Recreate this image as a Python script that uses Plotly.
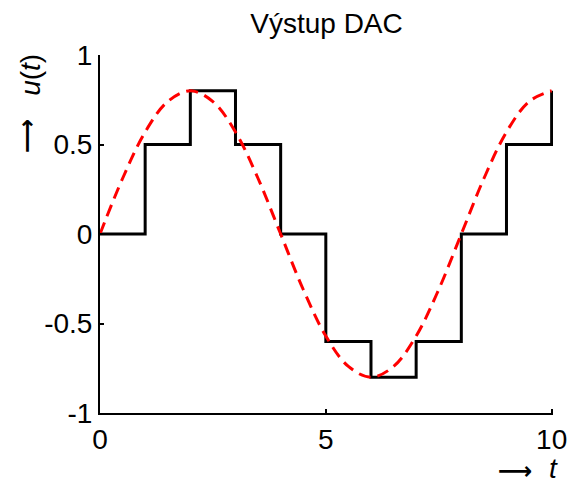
import plotly.graph_objects as go

# Staircase (DAC output) samples at integer t
t_steps = [0, 1, 2, 3, 4, 5, 6, 7, 8, 9, 10]
u_steps = [0, 0.5, 0.8, 0.5, 0, -0.6, -0.8, -0.6, 0, 0.5, 0.8]

# Ideal analogue signal (red dashed)
t_sig = [0, 0.5, 1, 1.5, 2, 2.5, 3, 3.5, 4, 4.5, 5, 5.5, 6, 6.5, 7, 7.5, 8, 8.5, 9, 9.5, 10]
u_sig = [0, 0.31, 0.57, 0.74, 0.8, 0.74, 0.57, 0.31, 0, -0.31, -0.57, -0.74, -0.8,
         -0.74, -0.57, -0.31, 0, 0.31, 0.57, 0.74, 0.8]

x_ticks = [0, 5, 10]
y_ticks = [-1, -0.5, 0, 0.5, 1]
y_tick_text = ["-1", "-0.5", "0", "0.5", "1"]

FONT = "Liberation Sans, Arial, sans-serif"
ARROW_FONT = "DejaVu Sans"

fig = go.Figure()
fig.add_trace(go.Scatter(x=t_steps, y=u_steps, mode="lines", line_shape="hv",
                         line=dict(color="black", width=3), showlegend=False))
fig.add_trace(go.Scatter(x=t_sig, y=u_sig, mode="lines", line_shape="spline",
                         line=dict(color="#ff0000", width=3, dash="12px,7px"), showlegend=False))

axis_common = dict(ticks="inside", ticklen=4, tickwidth=2, tickcolor="black",
                   showline=True, linecolor="black", linewidth=2, showgrid=False,
                   zeroline=False, automargin=False, tickfont=dict(size=28, color="black"))

fig.update_layout(
    template="none",
    width=572, height=485,
    margin=dict(l=100, r=19, t=55, b=72),
    paper_bgcolor="white", plot_bgcolor="white",
    font=dict(family=FONT, size=28, color="black"),
    title=dict(text="Výstup DAC", x=(100 + 553) / 2 / 572, xanchor="center",
               y=1 - 23 / 485, yanchor="middle", font=dict(size=28, color="black")),
    xaxis=dict(range=[0, 10.03], tickvals=x_ticks, ticktext=[str(v) for v in x_ticks],
               **axis_common),
    yaxis=dict(range=[-1, 1], tickvals=y_ticks, ticktext=y_tick_text, **axis_common),
    annotations=[
        dict(text="<i>u</i>(<i>t</i>)", textangle=-90, xref="paper", yref="paper",
             x=-0.155, y=0.944, xanchor="center", yanchor="middle", showarrow=False,
             font=dict(size=28, color="black")),
        dict(text="<b>⟶</b>", textangle=-90, xref="paper", yref="paper",
             x=-0.161, y=0.774, xanchor="center", yanchor="middle", showarrow=False,
             font=dict(size=24, color="black", family=ARROW_FONT)),
        dict(text="<b>⟶</b>", xref="paper", yref="paper",
             x=0.916, y=-0.162, xanchor="center", yanchor="middle", showarrow=False,
             font=dict(size=24, color="black", family=ARROW_FONT)),
        dict(text="<i>t</i>", xref="paper", yref="paper",
             x=1.0, y=-0.154, xanchor="center", yanchor="middle", showarrow=False,
             font=dict(size=28, color="black")),
    ],
)

fig.write_html(
    "out.html",
    config={"displayModeBar": False, "responsive": False},
    post_script=("document.body.style.margin='0';"
                 "document.body.style.overflow='hidden';"
                 "document.documentElement.style.overflow='hidden';"),
)
